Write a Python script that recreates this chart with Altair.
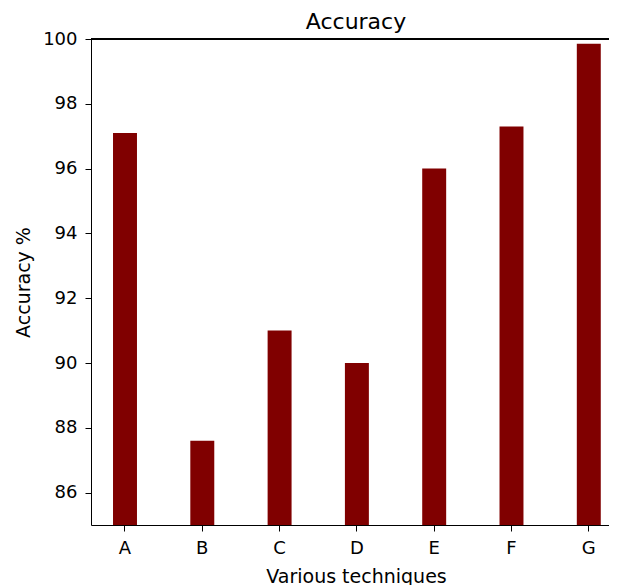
import altair as alt
import pandas as pd

techniques = ["A", "B", "C", "D", "E", "F", "G"]
accuracy = [97.1, 87.6, 91.0, 90.0, 96.0, 97.3, 99.85]
y_ticks = [86, 88, 90, 92, 94, 96, 98, 100]
chart_title = ["Accuracy"]

df = pd.DataFrame({"technique": techniques, "accuracy": accuracy})
title_df = pd.DataFrame({"label": chart_title})

FONT = "DejaVu Sans"

bars = alt.Chart(df).mark_bar(color="#800000", clip=True).encode(
    x=alt.X(
        "technique:N",
        sort=techniques,
        scale=alt.Scale(paddingInner=0.69, paddingOuter=0.1956, align=0.728),
        axis=alt.Axis(
            title="Various techniques",
            labelAngle=0,
            labelFontSize=18,
            titleFontSize=19,
            labelFont=FONT,
            titleFont=FONT,
            titleFontWeight="normal",
            labelColor="black",
            titleColor="black",
            domainColor="black",
            tickColor="black",
            tickSize=6,
            labelPadding=8,
            titleX=265,
            titleY=57,
            titleBaseline="alphabetic",
            grid=False,
        ),
    ),
    y=alt.Y(
        "accuracy:Q",
        scale=alt.Scale(domain=[85, 100], nice=False, zero=False),
        axis=alt.Axis(
            title="Accuracy %",
            values=y_ticks,
            labelFontSize=18,
            titleFontSize=19,
            labelFont=FONT,
            titleFont=FONT,
            titleFontWeight="normal",
            labelColor="black",
            titleColor="black",
            domainColor="black",
            tickColor="black",
            tickSize=6,
            labelPadding=8,
            titleX=-62,
            titleBaseline="alphabetic",
            grid=False,
        ),
    ),
)

top_spine = alt.Chart(df).mark_rule(color="black", strokeWidth=1).encode(
    y=alt.datum(100)
)

title_text = alt.Chart(title_df).mark_text(
    font=FONT, fontSize=22, color="black", align="center", baseline="alphabetic"
).encode(
    text="label:N",
    x=alt.value(265),
    y=alt.value(-10),
)

chart = (
    alt.layer(bars, top_spine, title_text)
    .properties(
        width=518,
        height=486,
        autosize=alt.AutoSizeParams(type="none"),
        padding={"left": 83, "top": 31, "right": 0, "bottom": 62},
    )
    .configure_view(stroke=None)
)

chart.save("out.html", embed_options={"renderer": "svg", "actions": False})
